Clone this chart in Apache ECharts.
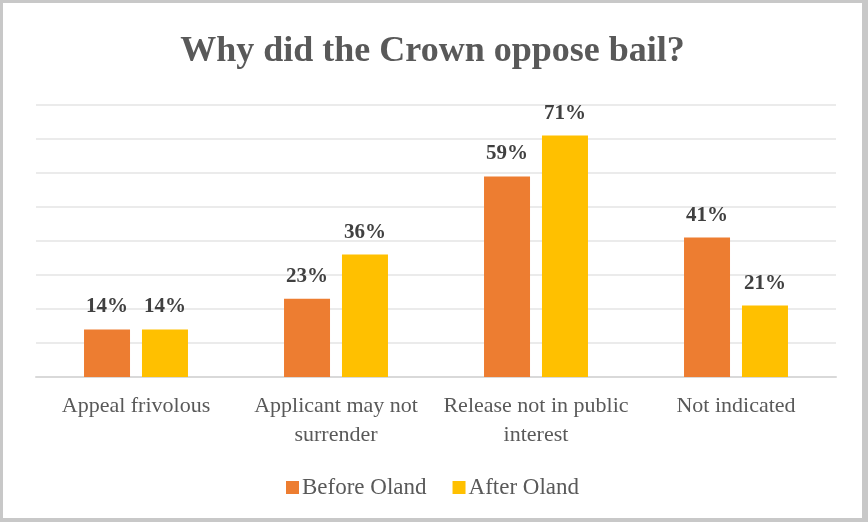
<!DOCTYPE html>
<html>
<head>
<meta charset="utf-8">
<script src="https://cdn.jsdelivr.net/npm/echarts@6/dist/echarts.min.js"></script>
<style>
html,body{margin:0;padding:0;background:#fff;}
#frame{position:absolute;left:0;top:0;width:868px;height:522px;box-sizing:border-box;background:#c8c8c8;}
#chart{position:absolute;left:3px;top:3px;width:859px;height:515px;background:#fff;}
</style>
</head>
<body>
<div id="frame"></div>
<div id="chart"></div>
<script>
const categories = ['Appeal frivolous', 'Applicant may not\nsurrender', 'Release not in public\ninterest', 'Not indicated'];
const seriesNames = ['Before Oland', 'After Oland'];
const beforeOland = [14, 23, 59, 41];
const afterOland = [14, 36, 71, 21];
const yMin = 0, yMax = 80, yInterval = 10;

const FONT = '"Liberation Serif", "DejaVu Serif", serif';
const chart = echarts.init(document.getElementById('chart'), null, {renderer: 'canvas'});
const labelStyle = {
  show: true, position: 'top', distance: 12,
  formatter: p => p.value + '%',
  fontFamily: FONT, fontSize: 21, fontWeight: 'bold', color: '#404040'
};
chart.setOption({
  animation: false,
  backgroundColor: '#fff',
  title: {
    text: 'Why did the Crown oppose bail?',
    left: 'center', top: 26,
    textStyle: {fontFamily: FONT, fontSize: 36, fontWeight: 'bold', color: '#595959'}
  },
  legend: {
    data: seriesNames,
    bottom: 14, left: 'center',
    itemWidth: 13, itemHeight: 13, itemGap: 26,
    icon: 'rect',
    textStyle: {fontFamily: FONT, fontSize: 23, color: '#595959', padding: [0, 0, 0, -2]}
  },
  grid: {left: 33, right: 26, top: 102, bottom: 141, containLabel: false},
  xAxis: {
    type: 'category', data: categories,
    axisLine: {lineStyle: {color: '#d9d9d9', width: 2}},
    axisTick: {show: false},
    axisLabel: {fontFamily: FONT, fontSize: 22, color: '#595959', margin: 15, lineHeight: 29, interval: 0}
  },
  yAxis: {
    type: 'value', min: yMin, max: yMax, interval: yInterval,
    axisLabel: {show: false}, axisLine: {show: false}, axisTick: {show: false},
    splitLine: {lineStyle: {color: '#ebebeb', width: 2}}
  },
  series: [
    {name: seriesNames[0], type: 'bar', data: beforeOland, barWidth: 46, barGap: '26%',
     itemStyle: {color: '#ED7D31'}, label: labelStyle},
    {name: seriesNames[1], type: 'bar', data: afterOland, barWidth: 46,
     itemStyle: {color: '#FFC000'}, label: labelStyle}
  ]
});
</script>
</body>
</html>
